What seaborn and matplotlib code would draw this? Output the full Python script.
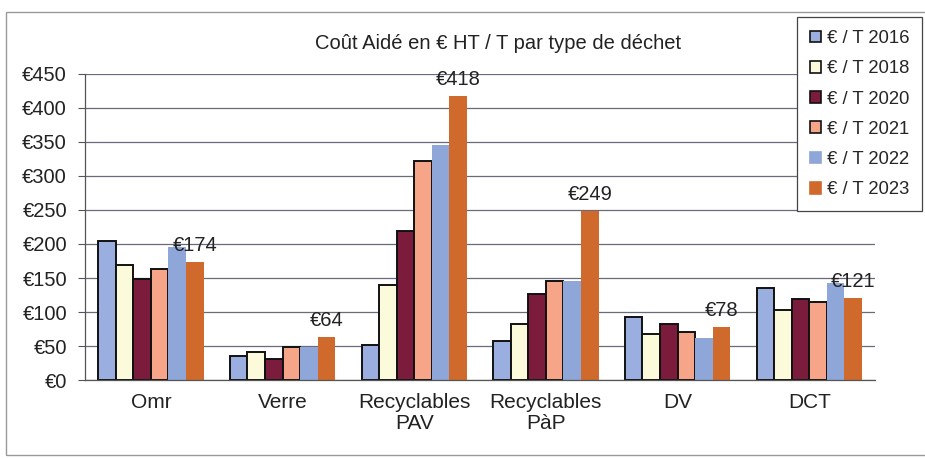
import numpy as np
import pandas as pd
import matplotlib
matplotlib.use('Agg')
import matplotlib.pyplot as plt
import seaborn as sns
from matplotlib.patches import Rectangle

# valeurs (€ HT / T)
categories = ['Omr', 'Verre', 'Recyclables\nPAV', 'Recyclables\nPàP', 'DV', 'DCT']
years = ['€ / T 2016', '€ / T 2018', '€ / T 2020', '€ / T 2021', '€ / T 2022', '€ / T 2023']
v2016 = [205, 36, 52, 57, 93, 136]
v2018 = [169, 41, 139, 82, 68, 103]
v2020 = [149, 31, 219, 126, 83, 119]
v2021 = [163, 49, 322, 145, 70, 114]
v2022 = [196, 48, 345, 146, 62, 143]
v2023 = [174, 64, 418, 249, 78, 121]
y_ticks = [0, 50, 100, 150, 200, 250, 300, 350, 400, 450]

colors = ['#9aaee0', '#fbfbdc', '#7c1c3c', '#f7a588', '#8fa6d8', '#cf6a2c']
edged = [True, True, True, True, False, False]

rows = []
for year, vals in zip(years, [v2016, v2018, v2020, v2021, v2022, v2023]):
    for cat, v in zip(categories, vals):
        rows.append({'cat': cat, 'annee': year, 'cout': v})
df = pd.DataFrame(rows)

sns.set_theme(style='white')
plt.rcParams['font.family'] = ['Liberation Sans', 'DejaVu Sans']

fig = plt.figure(figsize=(9.25, 4.59), dpi=100)
ax = fig.add_axes([0.092, 0.172, 0.854, 0.667])

sns.barplot(data=df, x='cat', y='cout', hue='annee', order=categories,
            hue_order=years, palette=colors, width=0.8, ax=ax,
            saturation=1, legend=False)

for cont, e in zip(ax.containers, edged):
    for bar in cont:
        if e:
            bar.set_edgecolor('#111111')
            bar.set_linewidth(1.4)
        else:
            bar.set_linewidth(0)

# étiquettes 2023
ax.bar_label(ax.containers[-1], labels=[f'€{v}' for v in v2023],
             padding=5, fontsize=14.5, color='#222222')

ax.set_ylim(0, 450)
ax.set_xlim(-0.5, len(categories) - 0.5)
ax.set_yticks(y_ticks)
ax.set_yticklabels([f'€{t}' for t in y_ticks], fontsize=14.5, color='#222222')
ax.set_xticklabels(categories, fontsize=15, color='#222222', linespacing=1.15)
ax.set_xticks(np.arange(-0.5, len(categories)), minor=True)
ax.tick_params(axis='x', which='major', length=0, pad=9)
ax.tick_params(axis='x', which='minor', length=7, direction='inout',
               color='#555555', width=0.8)
ax.tick_params(axis='y', length=5, direction='out', color='#555555', width=0.8,
               left=True, pad=8)
ax.set_xlabel('')
ax.set_ylabel('')
ax.yaxis.grid(True, color='#6a6a7a', linewidth=0.9)
ax.set_axisbelow(True)
sns.despine(ax=ax, top=True, right=True)
for s in ['left', 'bottom']:
    ax.spines[s].set_color('#555555')
    ax.spines[s].set_linewidth(0.9)

fig.text(0.538, 0.905, 'Coût Aidé en € HT / T par type de déchet',
         ha='center', va='center', fontsize=14.5, color='#222222')

handles = [Rectangle((0, 0), 1, 1, facecolor=c,
                     edgecolor='#111111' if e else c, linewidth=1.2)
           for c, e in zip(colors, edged)]
leg = fig.legend(handles, years, loc='upper left', bbox_to_anchor=(0.862, 0.963),
                 fontsize=13.3, frameon=True, fancybox=False, framealpha=1,
                 edgecolor='#444444', labelspacing=0.72, handlelength=0.6,
                 handleheight=0.6, handletextpad=0.3, borderpad=0.7,
                 borderaxespad=0)
leg.get_frame().set_linewidth(0.9)

# cadre du graphique
fig.patches.append(Rectangle((0.006, 0.008), 1.2, 0.965, transform=fig.transFigure,
                             fill=False, edgecolor='#999999', linewidth=1.0))

fig.savefig('out.png', dpi=100, facecolor='white')
